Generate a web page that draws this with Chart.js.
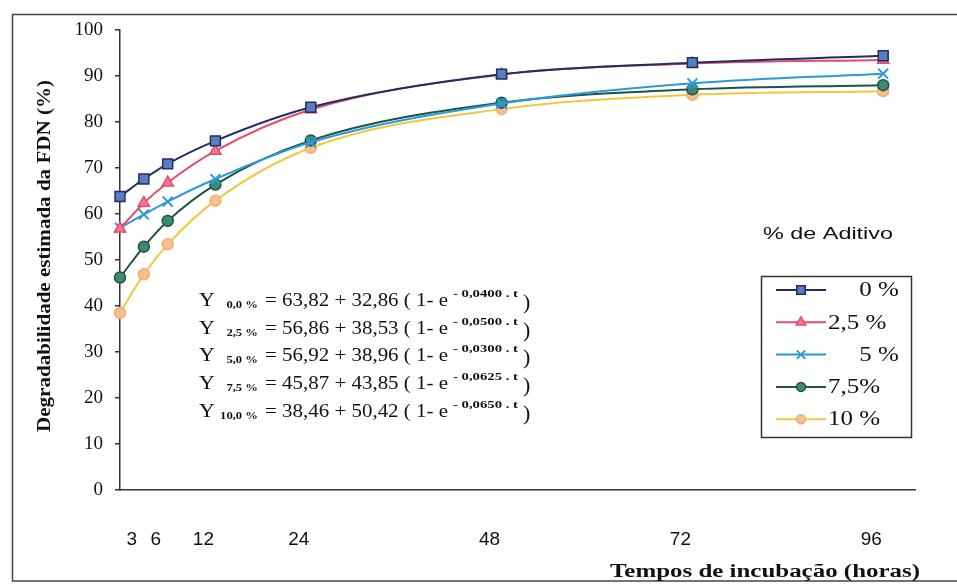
<!DOCTYPE html>
<html lang="pt">
<head>
<meta charset="utf-8">
<title>Degradabilidade estimada da FDN</title>
<script src="https://cdn.jsdelivr.net/npm/chart.js@4.4.1/dist/chart.umd.min.js"></script>
<style>
  html, body { margin: 0; padding: 0; background: #fff; }
  #wrap { position: relative; width: 957px; height: 584px; }
</style>
</head>
<body>
<div id="wrap"><canvas id="fdnChart"></canvas></div>
<script>
// -----------------------------
// dados: tempos de incubação (h) e degradabilidade (%)
// -----------------------------
const tempos = [0, 3, 6, 12, 24, 48, 72, 96];
const ticksTempo = [3, 6, 12, 24, 48, 72, 96];

const aditivo0  = [63.8, 67.6, 70.9, 75.9, 83.2, 90.4, 92.9, 94.4];
const aditivo25 = [56.8, 62.4, 66.8, 73.7, 82.7, 90.3, 92.7, 93.5];
const aditivo5  = [57.0, 59.9, 62.7, 67.6, 75.6, 84.0, 88.4, 90.5];
const aditivo75 = [46.2, 52.9, 58.5, 66.4, 76.0, 84.2, 87.1, 88.0];
const aditivo10 = [38.5, 46.9, 53.4, 62.9, 74.4, 82.8, 85.9, 86.7];

const rotulos = ['0 %', '2,5 %', '5 %', '7,5%', '10 %'];

// equações ajustadas (texto)
const eqSub = ['0,0 %', '2,5 %', '5,0 %', '7,5 %', '10,0 %'];
const eqA   = ['63,82', '56,86', '56,92', '45,87', '38,46'];
const eqB   = ['32,86', '38,53', '38,96', '43,85', '50,42'];
const eqK   = ['0,0400', '0,0500', '0,0300', '0,0625', '0,0650'];

// -----------------------------
// estilos das séries
// -----------------------------
const estilos = [
  { linha: '#1f2f63', fundo: '#5a7dc0', borda: '#1f2f63', forma: 'rect',     raio: 7 },
  { linha: '#e84a6c', fundo: '#f27790', borda: '#e84a6c', forma: 'triangle', raio: 6.5 },
  { linha: '#2b9ad6', fundo: '#2b9ad6', borda: '#2b9ad6', forma: 'crossRot', raio: 7 },
  { linha: '#1d5446', fundo: '#3d8a74', borda: '#1d5446', forma: 'circle',   raio: 5.5 },
  { linha: '#f4c63d', fundo: '#f7c08c', borda: '#f0b070', forma: 'circle',   raio: 5.5 }
];

const series = [aditivo0, aditivo25, aditivo5, aditivo75, aditivo10];

const datasets = series.map((valores, i) => ({
  label: rotulos[i],
  data: tempos.map((t, j) => ({ x: t, y: valores[j] })),
  borderColor: estilos[i].linha,
  borderWidth: 2,
  tension: 0.3,
  cubicInterpolationMode: 'monotone',
  pointStyle: estilos[i].forma,
  pointRadius: estilos[i].raio,
  pointBackgroundColor: estilos[i].fundo,
  pointBorderColor: estilos[i].borda,
  pointBorderWidth: estilos[i].forma === 'crossRot' ? 2 : 1.5,
  fill: false,
  clip: false
}));

// texto esticado na horizontal até a largura pedida
function textoAjustado(ctx, txt, x, y, largura, align) {
  const w = ctx.measureText(txt).width;
  ctx.save();
  ctx.translate(x, y);
  ctx.scale(largura / w, 1);
  ctx.textAlign = align || 'left';
  ctx.fillText(txt, 0, 0);
  ctx.restore();
}

function textoEscala(ctx, txt, x, y, sx, align) {
  ctx.save();
  ctx.translate(x, y);
  ctx.scale(sx, 1);
  ctx.textAlign = align || 'left';
  ctx.fillText(txt, 0, 0);
  ctx.restore();
}

// moldura, títulos, equações e legenda
const anotacoes = {
  id: 'anotacoes',
  afterDraw(chart) {
    const ctx = chart.ctx;
    ctx.save();

    // moldura da figura
    ctx.strokeStyle = '#444';
    ctx.lineWidth = 1.5;
    ctx.strokeRect(12.5, 14.5, 960, 566.5);

    ctx.fillStyle = '#111';
    ctx.textBaseline = 'middle';

    // título do eixo y
    ctx.save();
    ctx.translate(45, 256);
    ctx.rotate(-Math.PI / 2);
    ctx.font = 'bold 19px "Liberation Serif"';
    textoAjustado(ctx, 'Degradabilidade estimada da FDN (%)', 0, 0, 352, 'center');
    ctx.restore();

    // título do eixo x
    ctx.textBaseline = 'alphabetic';
    ctx.font = 'bold 18px "Liberation Serif"';
    textoAjustado(ctx, 'Tempos de incubação (horas)', 610, 577, 310);

    // equações
    for (let i = 0; i < eqA.length; i++) {
      const y = 306 + i * 27.7;
      ctx.font = '19px "Liberation Serif"';
      textoEscala(ctx, 'Y', 199, y, 1.15);
      ctx.font = 'bold 11px "Liberation Serif"';
      textoEscala(ctx, eqSub[i], 258, y + 2, 1.15, 'right');
      ctx.font = '18px "Liberation Serif"';
      textoAjustado(ctx, '= ' + eqA[i] + ' + ' + eqB[i] + ' ( 1- e', 265, y, 183);
      ctx.font = 'bold 10px "Liberation Serif"';
      textoAjustado(ctx, '- ' + eqK[i] + ' . t', 453, y - 9, 65);
      ctx.font = '20px "Liberation Serif"';
      textoEscala(ctx, ')', 523, y + 3, 1.1);
    }

    // legenda
    ctx.font = '17px "Liberation Sans"';
    textoAjustado(ctx, '% de Aditivo', 763, 239, 130);

    ctx.strokeStyle = '#333';
    ctx.lineWidth = 1.5;
    ctx.strokeRect(761.5, 276.5, 150, 161);

    ctx.textBaseline = 'middle';
    chart.data.datasets.forEach((ds, i) => {
      const y = 290 + i * 32.3;
      ctx.strokeStyle = ds.borderColor;
      ctx.lineWidth = 2;
      ctx.beginPath();
      ctx.moveTo(776, y);
      ctx.lineTo(826, y);
      ctx.stroke();

      ctx.fillStyle = ds.pointBackgroundColor;
      ctx.strokeStyle = ds.pointBorderColor;
      ctx.lineWidth = ds.pointBorderWidth;
      Chart.helpers.drawPoint(ctx, {
        pointStyle: ds.pointStyle,
        radius: ds.pointRadius - 1,
        borderWidth: ds.pointBorderWidth,
        rotation: 0
      }, 801, y);

      ctx.fillStyle = '#111';
      ctx.font = '20px "Liberation Serif"';
      const pad = ds.label.length < 4 ? '     ' : '';
      textoEscala(ctx, pad + ds.label, 828, y + 1, 1.25);
    });

    ctx.restore();
  }
};

const ctxFdn = document.getElementById('fdnChart').getContext('2d');

const fdnChart = new Chart(ctxFdn, {
  type: 'line',
  data: { datasets: datasets },
  options: {
    responsive: true,
    maintainAspectRatio: false,
    animation: false,
    layout: { padding: { left: 0, top: 30, right: 42, bottom: 0 } },
    plugins: {
      legend: { display: false },
      tooltip: { enabled: false }
    },
    scales: {
      x: {
        type: 'linear',
        min: 0,
        max: 100,
        afterBuildTicks: (s) => { s.ticks = ticksTempo.map(v => ({ value: v })); },
        afterFit: (s) => { s.height = 94; },
        grid: { display: false },
        border: { display: true, color: '#333', width: 1.5 },
        ticks: {
          color: '#111',
          font: { family: '"Liberation Sans"', size: 19 },
          padding: 30,
          labelOffset: -12,
          maxRotation: 0,
          autoSkip: false,
          callback: (v) => String(v)
        }
      },
      y: {
        min: 0,
        max: 100,
        afterFit: (s) => { s.width = 120; },
        grid: {
          drawOnChartArea: false,
          drawTicks: true,
          tickLength: 5,
          color: '#333',
          lineWidth: 1.5
        },
        border: { display: true, color: '#333', width: 1.5 },
        ticks: {
          stepSize: 10,
          color: '#111',
          font: { family: '"Liberation Serif"', size: 19 },
          padding: 12
        }
      }
    }
  },
  plugins: [anotacoes]
});
</script>
</body>
</html>
